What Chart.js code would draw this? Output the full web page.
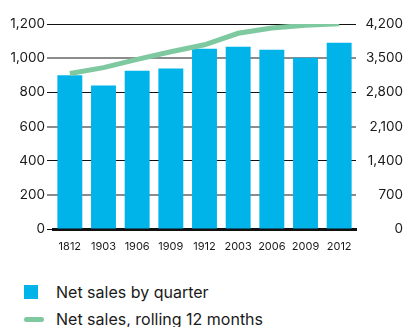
<!DOCTYPE html>
<html>
<head>
<meta charset="utf-8">
<script src="https://cdn.jsdelivr.net/npm/chart.js@4/dist/chart.umd.min.js"></script>
<style>
  body { margin: 0; background: #fff; font-family: Inter, sans-serif; color: #1a1a1a; }
  #wrap { position: relative; width: 403px; height: 262px; }
  .legend { margin: 17px 0 0 0; padding: 0; list-style: none; font-size: 16px; }
  .legend li { position: relative; height: 27px; line-height: 27px; padding-left: 56px; }
  .legend .box { position: absolute; left: 24px; top: 6px; width: 14px; height: 14px; background: #00b4ea; }
  .legend .ln { position: absolute; left: 24px; top: 11px; width: 20px; height: 5px; border-radius: 3px; background: #7fc9a0; }
</style>
</head>
<body>
<div id="wrap"><canvas id="salesChart"></canvas></div>
<ul class="legend">
  <li><span class="box"></span>Net sales by quarter</li>
  <li><span class="ln"></span>Net sales, rolling 12 months</li>
</ul>
<script>
// quarters (YYMM)
const quarters = ['1812', '1903', '1906', '1909', '1912', '2003', '2006', '2009', '2012'];
const salesByQuarter = [900, 840, 927, 939, 1055, 1067, 1049, 1003, 1090];
const salesRolling12 = [3185, 3307, 3476, 3632, 3774, 4010, 4119, 4174, 4206];

const tickFont = { family: 'Inter', size: 13.5 };

new Chart(document.getElementById('salesChart'), {
  data: {
    labels: quarters,
    datasets: [
      {
        type: 'line',
        label: 'Net sales, rolling 12 months',
        data: salesRolling12,
        yAxisID: 'y1',
        borderColor: '#7fc9a0',
        borderWidth: 5,
        pointRadius: 0,
        tension: 0,
        order: 0
      },
      {
        type: 'bar',
        label: 'Net sales by quarter',
        data: salesByQuarter,
        yAxisID: 'y',
        backgroundColor: '#00b4ea',
        categoryPercentage: 1,
        barPercentage: 0.74,
        order: 1
      }
    ]
  },
  options: {
    responsive: true,
    maintainAspectRatio: false,
    animation: false,
    layout: { padding: { top: 24, right: 0, left: 0, bottom: 0 } },
    plugins: {
      legend: { display: false },
      tooltip: { enabled: false }
    },
    scales: {
      x: {
        grid: { display: false, drawTicks: false },
        border: { display: true, width: 3, color: '#111' },
        ticks: { color: '#1a1a1a', font: { family: 'Inter', size: 11 }, padding: 11, maxRotation: 0 },
        afterFit: s => { s.height = 33; }
      },
      y: {
        position: 'left',
        min: 0,
        max: 1200,
        ticks: { stepSize: 200, color: '#1a1a1a', font: tickFont, padding: 2 },
        grid: {
          tickLength: 6,
          color: ctx => (ctx.index % 2 === 1 ? '#8c8c8c' : '#111'),
          lineWidth: ctx => (ctx.index % 2 === 1 ? 2 : 1)
        },
        border: { display: false },
        afterFit: s => { s.width = 53; }
      },
      y1: {
        position: 'right',
        min: 0,
        max: 4200,
        ticks: { stepSize: 700, color: '#1a1a1a', font: tickFont, padding: 4, crossAlign: 'far' },
        grid: { display: false },
        border: { display: false },
        afterFit: s => { s.width = 47; }
      }
    }
  }
});
</script>
</body>
</html>
